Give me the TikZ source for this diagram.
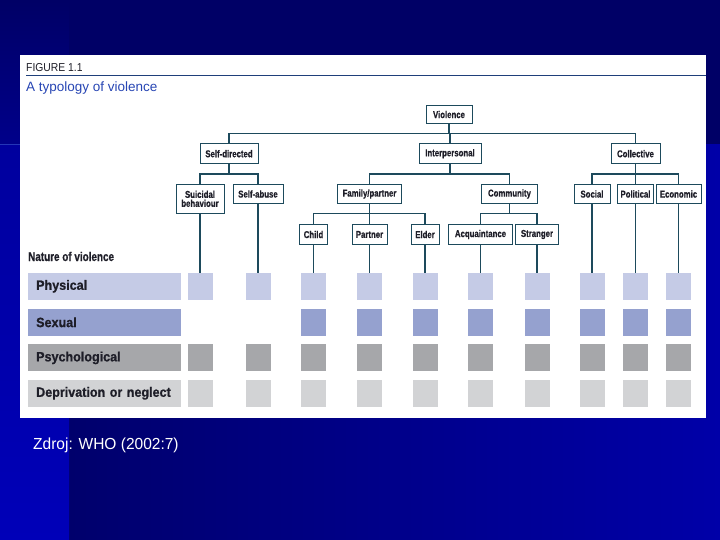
\documentclass[tikz,border=0pt]{standalone}
\usepackage{fontspec}
\setmainfont{Liberation Sans}
\newfontfamily\boxfont[FakeStretch=0.78,FakeBold=0.6]{Liberation Sans}
\newfontfamily\barfont[FakeStretch=0.93,FakeBold=0.8]{Liberation Sans}
\newfontfamily\figfont[FakeStretch=0.9]{Liberation Sans}
\newfontfamily\srcfont[FakeStretch=0.97]{Liberation Sans}
\definecolor{linecol}{RGB}{29,74,92}
\definecolor{physcol}{RGB}{197,203,230}
\definecolor{sexcol}{RGB}{149,161,207}
\definecolor{psycol}{RGB}{166,167,170}
\definecolor{depcol}{RGB}{210,211,213}
\definecolor{navy}{RGB}{0,0,102}
\definecolor{bgA}{RGB}{0,0,108}
\definecolor{bgB}{RGB}{0,0,168}
\definecolor{bgC}{RGB}{0,0,138}
\definecolor{bgD}{RGB}{0,0,158}
\definecolor{bgE}{RGB}{0,0,184}
\definecolor{hilite}{RGB}{60,90,200}
\definecolor{titleblue}{RGB}{40,70,180}
\definecolor{rulecol}{RGB}{31,63,122}
\definecolor{txtcol}{RGB}{30,30,40}
\begin{document}
\begin{tikzpicture}[x=1pt,y=-1pt,
  tbox/.style={draw=linecol, line width=0.9pt, fill=white, inner sep=0pt,
    minimum height=19.5pt, align=center, text=txtcol,
    font=\boxfont\bfseries\fontsize{10}{10.5}\selectfont},
  conn/.style={draw=linecol, line width=1.5pt},
  bar/.style={anchor=west, minimum height=27pt, text width=137pt,
    inner xsep=8pt, inner ysep=0pt, align=left, text=txtcol,
    font=\barfont\bfseries\fontsize{13.5}{14}\selectfont},
  sq/.style={minimum width=25pt, minimum height=27pt, inner sep=0pt},
]
\useasboundingbox (0,0) rectangle (720,540);
% background
\fill[navy] (0,0) rectangle (720,540);
\shade[left color=bgA, right color=bgB] (69,145) rectangle (720,540);
\shade[top color=navy, bottom color=bgC] (0,0) rectangle (69,145);
\shade[top color=bgD, bottom color=bgE] (0,145) rectangle (69,540);
\draw[color=hilite, line width=1pt, opacity=0.6] (0,145) -- (60,145);
% panel
\fill[white] (20,55) rectangle (705.5,417.5);
\draw[rulecol, line width=1.5pt] (26,75.7) -- (705.5,75.7);
\node[anchor=base west, inner sep=0pt, text=txtcol, font=\figfont\fontsize{11.5}{12}\selectfont] (fig) at (26,71.7) {FIGURE 1.1};
\node[anchor=base west, inner sep=0pt, text=titleblue, font=\fontsize{13.5}{15}\selectfont] (title) at (26,91.7) {A typology of violence};
% tree nodes
\node[tbox, minimum width=46pt, minimum height=18pt] (violence) at (449,114.5) {Violence};
\node[tbox, minimum width=58pt] (selfdir) at (229,153.7) {Self-directed};
\node[tbox, minimum width=62pt] (interp) at (450,153.7) {Interpersonal};
\node[tbox, minimum width=49pt] (collective) at (635.5,153.7) {Collective};
\node[tbox, minimum width=48pt, minimum height=29pt] (suicidal) at (200,198.8) {Suicidal\\[-1.5pt]behaviour};
\node[tbox, minimum width=50pt] (selfabuse) at (258,194) {Self-abuse};
\node[tbox, minimum width=64pt] (family) at (369.5,194) {Family/partner};
\node[tbox, minimum width=56pt] (community) at (509.5,194) {Community};
\node[tbox, minimum width=36pt] (social) at (592,194) {Social};
\node[tbox, minimum width=36pt] (political) at (635.5,194) {Political};
\node[tbox, minimum width=45pt] (economic) at (678.5,194) {Economic};
\node[tbox, minimum width=28pt] (child) at (313.5,234.5) {Child};
\node[tbox, minimum width=35pt] (partner) at (369.5,234.5) {Partner};
\node[tbox, minimum width=28pt] (elder) at (425,234.5) {Elder};
\node[tbox, minimum width=64pt] (acq) at (480.5,234.5) {Acquaintance};
\node[tbox, minimum width=43pt] (stranger) at (537,234.5) {Stranger};
% bus levels
\coordinate (b1) at (0,133.3);
\coordinate (b2) at (0,174);
\coordinate (b3) at (0,213.5);
\draw[conn] (violence.south) -- (violence.south |- b1);
\draw[conn] (selfdir.north) -- (selfdir.north |- b1) -- (collective.north |- b1) -- (collective.north);
\draw[conn] (interp.north) -- (interp.north |- b1);
\draw[conn] (selfdir.south) -- (selfdir.south |- b2);
\draw[conn] (suicidal.north) -- (suicidal.north |- b2) -- (selfabuse.north |- b2) -- (selfabuse.north);
\draw[conn] (interp.south) -- (interp.south |- b2);
\draw[conn] (family.north) -- (family.north |- b2) -- (community.north |- b2) -- (community.north);
\draw[conn] (collective.south) -- (collective.south |- b2);
\draw[conn] (social.north) -- (social.north |- b2) -- (economic.north |- b2) -- (economic.north);
\draw[conn] (political.north) -- (political.north |- b2);
\draw[conn] (family.south) -- (family.south |- b3);
\draw[conn] (child.north) -- (child.north |- b3) -- (elder.north |- b3) -- (elder.north);
\draw[conn] (partner.north) -- (partner.north |- b3);
\draw[conn] (community.south) -- (community.south |- b3);
\draw[conn] (acq.north) -- (acq.north |- b3) -- (stranger.north |- b3) -- (stranger.north);
% nature of violence
\node[anchor=base west, inner sep=0pt, text=txtcol, font=\boxfont\bfseries\fontsize{12.7}{13}\selectfont] (nature) at (28,261) {Nature of violence};
\node[bar, fill=physcol] (barP) at (28,286.3) {Physical};
\node[bar, fill=sexcol] (barS) at (28,322.3) {Sexual};
\node[bar, fill=psycol] (barY) at (28,357.9) {Psychological};
\node[bar, fill=depcol] (barD) at (28,393.3) {Deprivation or neglect};
% squares
\foreach \n/\x [count=\i] in {suicidal/200, selfabuse/258, child/313.5, partner/369.5, elder/425, acq/480.5, stranger/537, social/592, political/635.5, economic/678.5} {
  \node[sq, fill=physcol] (P\i) at (\x,286.3) {};
  \node[sq, fill=psycol] (Y\i) at (\x,357.9) {};
  \node[sq, fill=depcol] (D\i) at (\x,393.3) {};
  \draw[conn] (\n.south) -- (P\i.north);
}
\foreach \x [count=\i from 3] in {313.5, 369.5, 425, 480.5, 537, 592, 635.5, 678.5} {
  \node[sq, fill=sexcol] (S\i) at (\x,322.3) {};
}
\draw[conn, line width=1.9pt] (economic.south) -- (P10.north);
% source
\node[anchor=base west, inner sep=0pt, text=white, font=\srcfont\fontsize{16}{18}\selectfont] (src) at (33,449) {Zdroj: WHO (2002:7)};
\end{tikzpicture}
\end{document}
